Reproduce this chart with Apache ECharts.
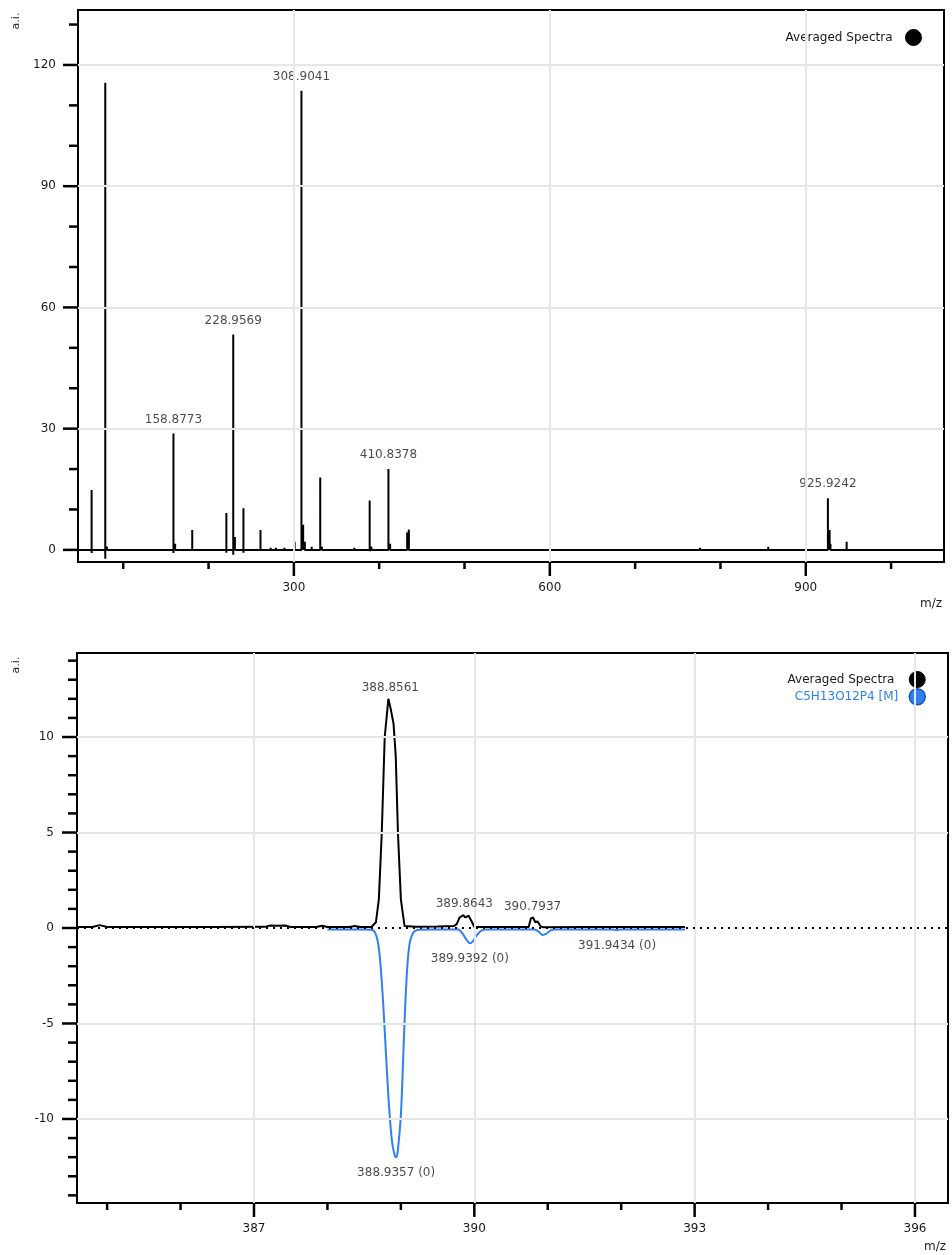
<!DOCTYPE html>
<html>
<head>
<meta charset="utf-8">
<style>
html,body{margin:0;padding:0;background:#fff;}
#chart{width:952px;height:1255px;}
</style>
<script src="https://cdn.jsdelivr.net/npm/echarts@6/dist/echarts.min.js"></script>
</head>
<body>
<div id="chart"></div>
<script>
// ---------- TOP PANEL DATA (stick spectrum) ----------
const TOP_MZ   = [62.96, 78.96, 80.96, 158.88, 160.87, 180.9, 220.9, 228.96, 230.9, 240.9, 260.9, 272.9, 278.9, 288.9, 300.9, 308.90, 310.9, 312.9, 320.9, 330.9, 332.9, 370.9, 388.86, 390.86, 410.84, 412.84, 432.8, 434.8, 775.9, 856.0, 925.92, 927.92, 928.92, 947.9];
const TOP_INT  = [14.8, 115.6, 0.8, 28.8, 1.5, 4.9, 9.1, 53.3, 3.2, 10.3, 4.9, 0.5, 0.5, 0.5, 2.0, 113.6, 6.2, 2.0, 0.8, 17.9, 0.8, 0.5, 12.2, 0.8, 20.0, 1.5, 4.3, 5.0, 0.5, 0.8, 12.8, 4.9, 1.5, 2.0];
const TOP_DIP  = [0.8, 2.2, 0, 0.8, 0, 0, 0.7, 1.2, 0, 0.7, 0, 0, 0, 0, 0, 0, 0, 0, 0, 0, 0, 0, 0.3, 0, 0, 0, 0, 0, 0, 0, 0, 0, 0, 0];
const TOP_LABEL_MZ  = [158.8773, 228.9569, 308.9041, 410.8378, 925.9242];
const TOP_LABEL_INT = [28.8, 53.3, 113.6, 20.0, 12.8];
const TOP_X_LABELS = [300, 600, 900];
const TOP_X_MINOR  = [100, 200, 400, 500, 700, 800, 1000];
const TOP_Y_LABELS = [0, 30, 60, 90, 120];
const TOP_Y_MINOR  = [10, 20, 40, 50, 70, 80, 100, 110, 130];
const TOP_X_RANGE = [47, 1062];
const TOP_Y_RANGE = [-3, 133.6];

// ---------- BOTTOM PANEL DATA (profile) ----------
const AVG_MZ  = [384.59, 384.80, 384.90, 385.00, 385.60, 386.40, 387.15, 387.22, 387.30, 387.42, 387.50, 387.85, 387.93, 388.00, 388.30, 388.37, 388.45, 388.60, 388.66, 388.70, 388.74, 388.78, 388.83, 388.86, 388.90, 388.93, 388.96, 389.00, 389.05, 389.07, 389.20, 389.50, 389.72, 389.76, 389.80, 389.85, 389.88, 389.92, 389.97, 390.00, 390.30, 390.74, 390.77, 390.80, 390.83, 390.86, 390.90, 390.93, 391.50, 392.20, 392.87];
const AVG_INT = [0.05, 0.05, 0.15, 0.05, 0.05, 0.05, 0.06, 0.13, 0.12, 0.13, 0.05, 0.05, 0.12, 0.05, 0.05, 0.1, 0.05, 0.05, 0.3, 1.5, 5.0, 10.0, 12.0, 11.5, 10.7, 9.0, 5.0, 1.5, 0.1, 0.02, 0.06, 0.08, 0.1, 0.2, 0.55, 0.67, 0.55, 0.65, 0.3, 0.05, 0.05, 0.05, 0.5, 0.55, 0.3, 0.35, 0.1, 0.04, 0.05, 0.05, 0.05];
const SIM_MZ  = [388.00, 388.50, 388.62, 388.68, 388.72, 388.76, 388.80, 388.84, 388.88, 388.92, 388.94, 388.96, 389.00, 389.03, 389.06, 389.09, 389.12, 389.16, 389.22, 389.40, 389.78, 389.84, 389.90, 389.94, 389.98, 390.04, 390.10, 390.16, 390.82, 390.88, 390.93, 390.98, 391.04, 391.10, 391.88, 391.94, 392.00, 392.87];
const SIM_INT = [-0.08, -0.08, -0.12, -0.6, -1.8, -4.0, -6.8, -9.4, -11.2, -11.95, -12.0, -11.6, -9.8, -7.0, -4.0, -1.9, -0.8, -0.3, -0.1, -0.08, -0.08, -0.3, -0.65, -0.8, -0.7, -0.35, -0.12, -0.08, -0.08, -0.2, -0.37, -0.3, -0.12, -0.08, -0.08, -0.1, -0.08, -0.08];
const AVG_LABEL_MZ  = [388.8561, 389.8643, 390.7937];
const AVG_LABEL_INT = [12.0, 0.67, 0.55];
const SIM_LABEL_MZ  = [388.9357, 389.9392, 391.9434];
const SIM_LABEL_INT = [-12.0, -0.8, -0.1];
const SIM_LABEL_TXT = ['388.9357 (0)', '389.9392 (0)', '391.9434 (0)'];
const BOT_X_LABELS = [387, 390, 393, 396];
const BOT_X_MINOR  = [385, 386, 388, 389, 391, 392, 394, 395];
const BOT_Y_LABELS = [-10, -5, 0, 5, 10];
const BOT_Y_MINOR  = [-14,-13,-12,-11,-9,-8,-7,-6,-4,-3,-2,-1,1,2,3,4,6,7,8,9,11,12,13,14];
const BOT_X_RANGE = [384.59, 396.45];
const BOT_Y_RANGE = [-14.4, 14.4];

const SERIES_AVG = 'Averaged Spectra';
const SERIES_SIM = 'C5H13O12P4 [M]';
const BLUE = '#2f80f3';
const FONT = 'DejaVu Sans';

// build stick profile for top panel
const topProfile = [[TOP_X_RANGE[0], 0]];
TOP_MZ.forEach((m, i) => {
  topProfile.push([m, 0], [m, TOP_INT[i]], [m, -TOP_DIP[i]], [m, 0]);
});
topProfile.push([TOP_X_RANGE[1], 0]);

const gridLine = {color: '#e6e6e6', width: 2, type: 'solid'};
const txtColor = '#1a1a1a';

function xLab(gi, range, labels) {
  return {
    type: 'value', gridIndex: gi, min: range[0], max: range[1], position: 'bottom',
    axisLine: {show: false, onZero: false}, axisTick: {show: false},
    axisLabel: {show: true, customValues: labels, margin: 20, color: txtColor, fontFamily: FONT, fontSize: 12},
    splitLine: {show: false}
  };
}
function yLab(gi, range, labels, margin) {
  return {
    type: 'value', gridIndex: gi, min: range[0], max: range[1], position: 'left',
    axisLine: {show: false, onZero: false}, axisTick: {show: false},
    axisLabel: {show: true, customValues: labels, margin: margin, color: txtColor, fontFamily: FONT, fontSize: 12},
    splitLine: {show: false}
  };
}

// tick marks drawn through the axis scales (custom series, not clipped)
const MAJOR_X_LEN = 14, MINOR_X_LEN = 7, MAJOR_Y_LEN = 15, MINOR_Y_LEN = 9;
function tickSeries(gi, xRange, yRange, xMajor, xMinor, yMajor, yMinor) {
  const data = [];
  xMajor.forEach(v => data.push([v, yRange[0], 0, 1]));
  xMinor.forEach(v => data.push([v, yRange[0], 0, 0]));
  yMajor.forEach(v => data.push([xRange[0], v, 1, 1]));
  yMinor.forEach(v => data.push([xRange[0], v, 1, 0]));
  return {
    type: 'custom', xAxisIndex: gi, yAxisIndex: gi, silent: true, clip: false, z: 10,
    dimensions: ['x', 'y', 'dir', 'major'],
    encode: {x: 0, y: 1},
    data: data,
    renderItem: function (params, api) {
      const p = api.coord([api.value(0), api.value(1)]);
      const isY = api.value(2) === 1, major = api.value(3) === 1;
      let shape;
      if (isY) {
        const len = major ? MAJOR_Y_LEN : MINOR_Y_LEN;
        shape = {x1: p[0] - len, y1: p[1], x2: p[0], y2: p[1]};
      } else {
        const len = major ? MAJOR_X_LEN : MINOR_X_LEN;
        shape = {x1: p[0], y1: p[1], x2: p[0], y2: p[1] + len};
      }
      return {type: 'line', shape: shape, style: {stroke: '#000', lineWidth: 2.5}};
    }
  };
}

const option = {
  animation: false,
  backgroundColor: '#fff',
  textStyle: {fontFamily: FONT},
  grid: [
    {left: 78, top: 10, right: 8, height: 552, show: true, borderColor: '#000', borderWidth: 2, backgroundColor: 'transparent'},
    {left: 77, top: 653, right: 4, height: 550, show: true, borderColor: '#000', borderWidth: 2, backgroundColor: 'transparent'}
  ],
  xAxis: [
    xLab(0, TOP_X_RANGE, TOP_X_LABELS),
    xLab(1, BOT_X_RANGE, BOT_X_LABELS)
  ],
  yAxis: [
    yLab(0, TOP_Y_RANGE, TOP_Y_LABELS, 22),
    yLab(1, BOT_Y_RANGE, BOT_Y_LABELS, 23)
  ],
  legend: [
    {
      orient: 'vertical', right: 25, top: 24, align: 'right', itemWidth: 16, itemHeight: 16, itemGap: 2,
      selectedMode: false,
      textStyle: {color: txtColor, fontFamily: FONT, fontSize: 12, padding: [0, 8, 0, 0]},
      data: [{name: SERIES_AVG, icon: 'circle', itemStyle: {color: '#000', borderColor: '#000', borderWidth: 1}}]
    },
    {
      orient: 'vertical', right: 21, top: 666, align: 'right', itemWidth: 16, itemHeight: 16, itemGap: 0,
      selectedMode: false,
      textStyle: {color: txtColor, fontFamily: FONT, fontSize: 12, padding: [0, 6, 0, 0]},
      data: [
        {name: SERIES_AVG + ' ', icon: 'circle', itemStyle: {color: '#000', borderColor: '#000', borderWidth: 1}},
        {name: SERIES_SIM, icon: 'circle', itemStyle: {color: BLUE, borderColor: '#1a4fb8', borderWidth: 1.5}, textStyle: {color: BLUE}}
      ]
    }
  ],
  graphic: [
    {type: 'text', x: 16, y: 21, rotation: Math.PI / 2, style: {text: 'a.i.', fill: txtColor, font: '11px "DejaVu Sans"', align: 'center', verticalAlign: 'middle'}},
    {type: 'text', x: 16, y: 665, rotation: Math.PI / 2, style: {text: 'a.i.', fill: txtColor, font: '11px "DejaVu Sans"', align: 'center', verticalAlign: 'middle'}},
    {type: 'text', x: 942, y: 604, style: {text: 'm/z', fill: txtColor, font: '12px "DejaVu Sans"', align: 'right', verticalAlign: 'middle'}},
    {type: 'text', x: 946, y: 1247, style: {text: 'm/z', fill: txtColor, font: '12px "DejaVu Sans"', align: 'right', verticalAlign: 'middle'}}
  ],
  series: [
    {
      type: 'line', xAxisIndex: 0, yAxisIndex: 0, data: [], z: 1, silent: true,
      markLine: {silent: true, symbol: 'none', label: {show: false}, lineStyle: gridLine, animation: false,
        data: TOP_X_LABELS.map(v => ({xAxis: v})).concat(TOP_Y_LABELS.filter(v => v !== 0).map(v => ({yAxis: v})))}
    },
    {
      type: 'line', xAxisIndex: 1, yAxisIndex: 1, data: [], z: 1, silent: true,
      markLine: {silent: true, symbol: 'none', label: {show: false}, lineStyle: gridLine, animation: false,
        data: BOT_X_LABELS.map(v => ({xAxis: v})).concat(BOT_Y_LABELS.filter(v => v !== 0).map(v => ({yAxis: v})))}
    },
    {
      type: 'line', xAxisIndex: 1, yAxisIndex: 1, data: [], z: 2, silent: true,
      markLine: {silent: true, symbol: 'none', label: {show: false}, animation: false,
        lineStyle: {color: '#000', width: 2, type: [2, 5]}, data: [{yAxis: 0}]}
    },
    tickSeries(0, TOP_X_RANGE, TOP_Y_RANGE, TOP_X_LABELS, TOP_X_MINOR, TOP_Y_LABELS, TOP_Y_MINOR),
    tickSeries(1, BOT_X_RANGE, BOT_Y_RANGE, BOT_X_LABELS, BOT_X_MINOR, BOT_Y_LABELS, BOT_Y_MINOR),
    {
      name: SERIES_AVG, type: 'line', xAxisIndex: 0, yAxisIndex: 0, data: topProfile,
      showSymbol: false, symbol: 'none', z: 3,
      lineStyle: {color: '#000', width: 2}, itemStyle: {color: '#000'}
    },
    {
      type: 'scatter', xAxisIndex: 0, yAxisIndex: 0, symbolSize: 0, z: 4, silent: true,
      data: TOP_LABEL_MZ.map((m, i) => [m, TOP_LABEL_INT[i]]),
      label: {show: true, position: 'top', distance: 8, color: txtColor, fontFamily: FONT, fontSize: 12,
        formatter: p => p.value[0].toFixed(4)}
    },
    {
      name: SERIES_AVG + ' ', type: 'line', xAxisIndex: 1, yAxisIndex: 1,
      data: AVG_MZ.map((m, i) => [m, AVG_INT[i]]),
      showSymbol: false, symbol: 'none', z: 3,
      lineStyle: {color: '#000', width: 2}, itemStyle: {color: '#000'}
    },
    {
      name: SERIES_SIM, type: 'line', xAxisIndex: 1, yAxisIndex: 1, smooth: 0.3,
      data: SIM_MZ.map((m, i) => [m, SIM_INT[i]]),
      showSymbol: false, symbol: 'none', z: 4,
      lineStyle: {color: BLUE, width: 2}, itemStyle: {color: BLUE}
    },
    {
      type: 'scatter', xAxisIndex: 1, yAxisIndex: 1, symbolSize: 0, z: 5, silent: true,
      data: AVG_LABEL_MZ.map((m, i) => [m, AVG_LABEL_INT[i]]),
      label: {show: true, position: 'top', distance: 5, color: txtColor, fontFamily: FONT, fontSize: 12,
        formatter: p => p.value[0].toFixed(4)}
    },
    {
      type: 'scatter', xAxisIndex: 1, yAxisIndex: 1, symbolSize: 0, z: 5, silent: true,
      data: SIM_LABEL_MZ.map((m, i) => ({value: [m, SIM_LABEL_INT[i]], name: SIM_LABEL_TXT[i]})),
      label: {show: true, position: 'bottom', distance: 10, color: txtColor, fontFamily: FONT, fontSize: 12,
        formatter: p => p.name}
    }
  ]
};

const chart = echarts.init(document.getElementById('chart'), null, {renderer: 'canvas'});
chart.setOption(option);
</script>
</body>
</html>
